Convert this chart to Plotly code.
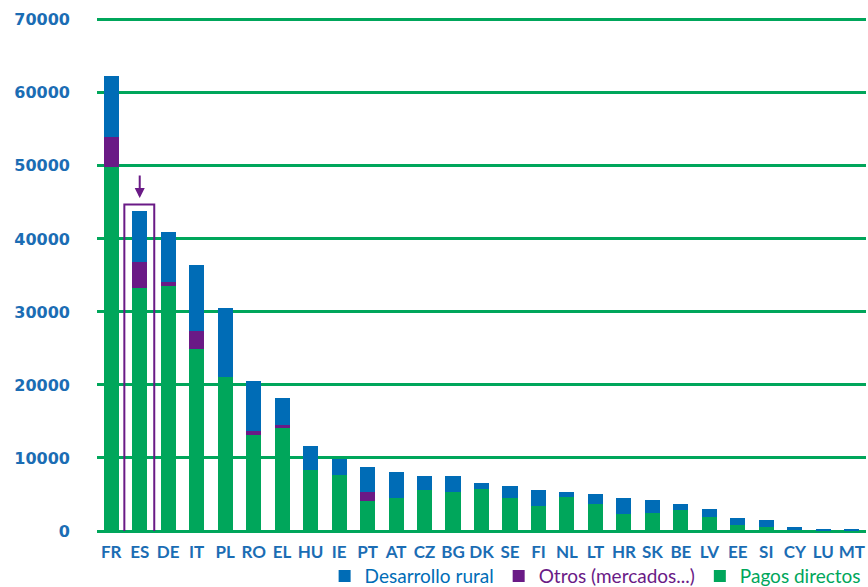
import plotly.graph_objects as go

categories = ["FR", "ES", "DE", "IT", "PL", "RO", "EL", "HU", "IE", "PT", "AT", "CZ", "BG", "DK",
              "SE", "FI", "NL", "LT", "HR", "SK", "BE", "LV", "EE", "SI", "CY", "LU", "MT"]
pagos_directos = [49900, 33300, 33550, 24900, 21100, 13150, 14100, 8350, 7650, 4100, 4500, 5600, 5350, 5750,
                  4500, 3400, 4650, 3700, 2350, 2450, 2900, 1900, 800, 550, 140, 60, 60]
otros = [4000, 3550, 600, 2500, 0, 550, 400, 0, 0, 1250, 0, 0, 0, 0,
         0, 0, 0, 0, 0, 0, 0, 0, 0, 0, 0, 0, 0]
totales = [62300, 43850, 41000, 36450, 30550, 20550, 18200, 11650, 9850, 8750, 8100, 7550, 7550, 6600,
           6150, 5600, 5350, 5050, 4500, 4250, 3700, 3000, 1800, 1500, 550, 270, 270]
desarrollo_rural = [t - p - o for t, p, o in zip(totales, pagos_directos, otros)]
y_ticks = [0, 10000, 20000, 30000, 40000, 50000, 60000, 70000]
highlight = "ES"

BLUE = "#006cb6"
PURPLE = "#6a1a86"
GREEN = "#00a65b"
TICK = "#1b6db4"

fig = go.Figure()
fig.add_trace(go.Bar(x=categories, y=pagos_directos, marker=dict(color=GREEN, line=dict(width=0)),
                     name="<span style='color:%s'>Pagos directos</span>" % GREEN))
fig.add_trace(go.Bar(x=categories, y=otros, marker=dict(color=PURPLE, line=dict(width=0)),
                     name="<span style='color:%s'>Otros (mercados...)</span>" % PURPLE))
fig.add_trace(go.Bar(x=categories, y=desarrollo_rural, marker=dict(color=BLUE, line=dict(width=0)),
                     name="<span style='color:%s'>Desarrollo rural</span>" % BLUE))

i = categories.index(highlight)
x0, x1, ytop = i - 0.54, i + 0.51, 44700
fig.add_shape(type="path", xref="x", yref="y",
              path="M %s,0 L %s,%s L %s,%s L %s,0" % (x0, x0, ytop, x1, ytop, x1),
              line=dict(color=PURPLE, width=2), fillcolor="rgba(0,0,0,0)", layer="above")
fig.add_annotation(x=i, y=45600, ax=i, ay=48900, xref="x", yref="y", axref="x", ayref="y",
                   text="", showarrow=True, arrowhead=2, arrowsize=1, arrowwidth=2, arrowcolor=PURPLE)

fig.update_layout(
    barmode="stack",
    bargap=0.47,
    width=868, height=587,
    margin=dict(l=97, r=2, t=18, b=56, autoexpand=False),
    plot_bgcolor="white", paper_bgcolor="white",
    showlegend=True,
    legend=dict(orientation="h", traceorder="reversed", x=0.296, xanchor="left", y=-0.088, yanchor="middle",
                font=dict(family="Lato", size=19), bgcolor="rgba(0,0,0,0)", itemclick=False),
    xaxis=dict(type="category", range=[-0.5, len(categories) - 0.5], showgrid=False, showline=False,
               ticks="", tickfont=dict(family="Lato", size=17, color=TICK, weight="bold"), ticklabelstandoff=9),
    yaxis=dict(range=[0, 70250], tickvals=y_ticks, ticktext=[str(v) for v in y_ticks],
               showgrid=True, gridcolor=GREEN, gridwidth=3, zeroline=True, zerolinecolor=GREEN, zerolinewidth=3,
               showline=False, ticks="", ticklabelstandoff=26,
               tickfont=dict(family="DejaVu Sans", size=16, color=TICK, weight="bold")),
)

fig.write_html("out.html", config={"displayModeBar": False},
               post_script="document.body.style.margin='0';")
